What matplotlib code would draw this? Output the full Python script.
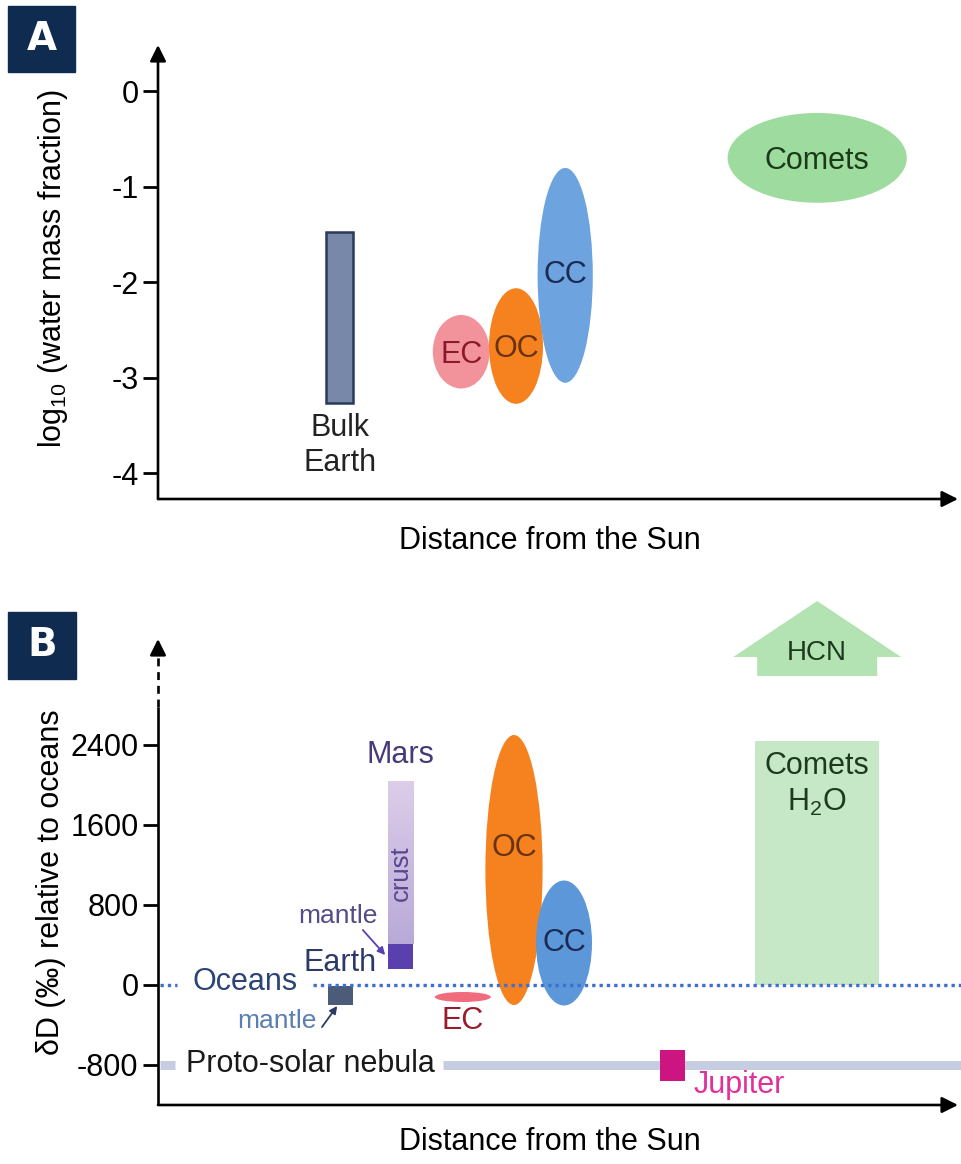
import matplotlib
matplotlib.use("Agg")
import matplotlib.pyplot as plt
import numpy as np
from matplotlib.patches import Ellipse, Rectangle
from matplotlib.colors import LinearSegmentedColormap

plt.rcParams['font.family'] = ['Liberation Sans', 'DejaVu Sans']
plt.rcParams['mathtext.fontset'] = 'custom'
plt.rcParams['mathtext.rm'] = 'Liberation Sans'
plt.rcParams['mathtext.it'] = 'Liberation Sans'

# ---------------- data: panel A (log10 water mass fraction) ----------------
a_ticks = [0, -1, -2, -3, -4]
bulk_earth_x = (21.0, 24.4)          # distance (arbitrary units)
bulk_earth_y = (-3.27, -1.48)        # log10 water mass fraction range
a_groups = ["EC", "OC", "CC", "Comets"]
a_center_x = [37.9, 44.75, 50.9, 82.4]
a_center_y = [-2.73, -2.67, -1.93, -0.70]
a_width = [7.1, 6.75, 6.9, 22.4]
a_height = [0.77, 1.21, 2.25, 0.94]

# ---------------- data: panel B (deltaD relative to oceans) ----------------
b_ticks = [-800, 0, 800, 1600, 2400]
b_groups = ["EC", "OC", "CC"]
b_center_x = [38.1, 44.5, 50.75]
b_center_y = [-120, 1150, 420]
b_width = [7.0, 7.15, 7.0]
b_height = [100, 2700, 1250]
earth_mantle_x = (21.25, 24.4)
earth_mantle_y = (-200, -10)
mars_x = (28.75, 31.9)
mars_crust_y = (410, 2040)
mars_mantle_y = (160, 410)
jupiter_x = (62.75, 65.9)
jupiter_y = (-960, -650)
comets_h2o_x = (74.6, 90.1)
comets_h2o_y = (0, 2440)
hcn_x = 82.4
hcn_y = (3090, 3840)
protosolar_value = -800
oceans_value = 0

# ---------------- figure ----------------
W, H = 961, 1164
fig = plt.figure(figsize=(W / 100, H / 100), dpi=100)

def ax_rect(left, right, top, bottom):
    return [left / W, 1 - bottom / H, (right - left) / W, (bottom - top) / H]

FS = 22
FS_S = 19
navy = '#0f2b50'

# panel label boxes
for (x0, y0, x1, y1, lab) in [(8, 6, 75, 72, 'A'), (8, 612, 76, 679, 'B')]:
    fig.patches.append(Rectangle((x0 / W, 1 - y1 / H), (x1 - x0) / W, (y1 - y0) / H,
                                 transform=fig.transFigure, color=navy, zorder=0))
    fig.text((x0 + x1) / 2 / W, 1 - (y0 + y1) / 2 / H, lab, color='white',
             fontsize=28, fontweight='bold', ha='center', va='center',
             family=['DejaVu Sans'])

# ====================== Panel A ======================
axA = fig.add_axes(ax_rect(158, 958, 45, 499))
yA0, yA1 = -4.272, 0.482
axA.set_xlim(0, 100)
axA.set_ylim(yA0, yA1)
for s in axA.spines.values():
    s.set_visible(False)
axA.set_xticks([])
axA.set_yticks(a_ticks)
axA.set_yticklabels([str(t) for t in a_ticks], fontsize=FS)
axA.tick_params(axis='y', length=11, width=2, pad=3)
axA.annotate('', xy=(0, yA1), xytext=(0, yA0), xycoords='data',
             arrowprops=dict(arrowstyle='-|>', lw=1.9, color='black',
                             mutation_scale=24, shrinkA=0, shrinkB=0),
             annotation_clip=False)
axA.annotate('', xy=(100, yA0), xytext=(0, yA0), xycoords='data',
             arrowprops=dict(arrowstyle='-|>', lw=1.9, color='black',
                             mutation_scale=24, shrinkA=0, shrinkB=0),
             annotation_clip=False)

axA.add_patch(Rectangle((bulk_earth_x[0], bulk_earth_y[0]),
                        bulk_earth_x[1] - bulk_earth_x[0],
                        bulk_earth_y[1] - bulk_earth_y[0],
                        facecolor='#7888a8', edgecolor='#2a3a5c', lw=1.8, zorder=3))
axA.text(np.mean(bulk_earth_x), -3.71, 'Bulk\nEarth', ha='center', va='center',
         fontsize=FS, color='#222222', linespacing=1.2)

a_fill = ['#f2939c', '#f5821f', '#6da3de', '#9edb9e']
a_text = ['#8a1a2a', '#6a3210', '#1c2a52', '#1a3a1a']
for i, g in enumerate(a_groups):
    axA.add_patch(Ellipse((a_center_x[i], a_center_y[i]), a_width[i], a_height[i],
                          facecolor=a_fill[i], edgecolor='none', zorder=3 + i))
    axA.text(a_center_x[i], a_center_y[i] - (0.03 if g != 'CC' else 0.0), g,
             ha='center', va='center', fontsize=FS, color=a_text[i], zorder=10)

axA.set_ylabel(r'log$_{\mathrm{10}}$ (water mass fraction)', fontsize=FS)
axA.yaxis.set_label_coords((70 - 158) / 800, (499 - 268) / 454)
fig.text(550 / W, 1 - 541 / H, 'Distance from the Sun', ha='center', va='center',
         fontsize=FS)

# ====================== Panel B ======================
axB = fig.add_axes(ax_rect(158, 958, 590, 1105))
yB0, yB1 = -1200, 3950
axB.set_xlim(0, 100)
axB.set_ylim(yB0, yB1)
for s in axB.spines.values():
    s.set_visible(False)
axB.set_xticks([])
axB.set_yticks(b_ticks)
axB.set_yticklabels([str(t) for t in b_ticks], fontsize=FS)
axB.tick_params(axis='y', length=11, width=2, pad=3)

# y axis: solid, then dashed, then arrow head
axB.plot([0, 0], [yB0, 2780], color='black', lw=1.9, clip_on=False,
         solid_capstyle='butt', zorder=5)
axB.plot([0, 0], [2780, 3330], color='black', lw=1.9, clip_on=False,
         linestyle=(0, (3.0, 2.2)), zorder=5)
axB.annotate('', xy=(0, 3460), xytext=(0, 3300), xycoords='data',
             arrowprops=dict(arrowstyle='-|>', lw=1.9, color='black',
                             mutation_scale=24, shrinkA=0, shrinkB=0),
             annotation_clip=False)
axB.annotate('', xy=(100, yB0), xytext=(0, yB0), xycoords='data',
             arrowprops=dict(arrowstyle='-|>', lw=1.9, color='black',
                             mutation_scale=24, shrinkA=0, shrinkB=0),
             annotation_clip=False)

# proto-solar nebula band
neb_col = '#c7cde1'
axB.plot([0.25, 2.1], [protosolar_value] * 2, color=neb_col, lw=6.5,
         solid_capstyle='butt', zorder=2)
axB.plot([35.6, 100.4], [protosolar_value] * 2, color=neb_col, lw=6.5,
         solid_capstyle='butt', zorder=2, clip_on=False)
axB.text(19.0, protosolar_value + 10, 'Proto-solar nebula', ha='center', va='center',
         fontsize=FS, color='#1a1a1a')

# oceans dotted line
oc_col = '#3f6fd0'
axB.plot([0.25, 2.4], [oceans_value] * 2, color=oc_col, lw=2.4,
         linestyle=(0, (1, 1.2)), zorder=6)
axB.plot([19.4, 100.4], [oceans_value] * 2, color=oc_col, lw=2.4,
         linestyle=(0, (1, 1.2)), zorder=6, clip_on=False)
axB.text(10.9, 30, 'Oceans', ha='center', va='center', fontsize=FS, color='#2c4476')

# Earth mantle
axB.add_patch(Rectangle((earth_mantle_x[0], earth_mantle_y[0]),
                        earth_mantle_x[1] - earth_mantle_x[0],
                        earth_mantle_y[1] - earth_mantle_y[0],
                        facecolor='#4b5b78', edgecolor='none', zorder=4))
axB.text(22.75, 220, 'Earth', ha='center', va='center', fontsize=FS, color='#2b3b66')
axB.text(14.9, -365, 'mantle', ha='center', va='center', fontsize=FS_S, color='#5a7fb2')
axB.annotate('', xy=(22.4, -210), xytext=(20.5, -420),
             arrowprops=dict(arrowstyle='-|>', lw=1.3, color='#2b3b66',
                             mutation_scale=11, shrinkA=0, shrinkB=0))

# Mars crust (gradient) + mantle
grad = np.linspace(0, 1, 256).reshape(-1, 1)
cmap_mars = LinearSegmentedColormap.from_list('mars', ['#b8aad8', '#dccde9'])
axB.imshow(grad, extent=[mars_x[0], mars_x[1], mars_crust_y[0], mars_crust_y[1]],
           origin='lower', cmap=cmap_mars, aspect='auto', zorder=3)
axB.add_patch(Rectangle((mars_x[0], mars_mantle_y[0]), mars_x[1] - mars_x[0],
                        mars_mantle_y[1] - mars_mantle_y[0],
                        facecolor='#5a3fae', edgecolor='none', zorder=4))
axB.text(np.mean(mars_x), 2300, 'Mars', ha='center', va='center', fontsize=FS,
         color='#473a78')
axB.text(np.mean(mars_x), 1120, 'crust', ha='center', va='center', fontsize=FS_S - 0.5,
         color='#5a4590', rotation=90, zorder=5)
axB.text(22.5, 690, 'mantle', ha='center', va='center', fontsize=FS_S, color='#574a88')
axB.annotate('', xy=(28.4, 300), xytext=(25.6, 550),
             arrowprops=dict(arrowstyle='-|>', lw=1.3, color='#5a3fae',
                             mutation_scale=11, shrinkA=0, shrinkB=0))

# chondrite ellipses
b_fill = ['#f06b7b', '#f5821f', '#5b97d9']
for i, g in enumerate(b_groups):
    axB.add_patch(Ellipse((b_center_x[i], b_center_y[i]), b_width[i], b_height[i],
                          facecolor=b_fill[i], edgecolor='none', zorder=3 + i))
axB.text(b_center_x[0], -360, 'EC', ha='center', va='center', fontsize=FS,
         color='#9a1c2c')
axB.text(b_center_x[1], 1370, 'OC', ha='center', va='center', fontsize=FS,
         color='#6a3210', zorder=10)
axB.text(b_center_x[2], 420, 'CC', ha='center', va='center', fontsize=FS,
         color='#1c2a52', zorder=10)

# Jupiter
axB.add_patch(Rectangle((jupiter_x[0], jupiter_y[0]), jupiter_x[1] - jupiter_x[0],
                        jupiter_y[1] - jupiter_y[0], facecolor='#cc1580',
                        edgecolor='none', zorder=4))
axB.text(66.9, -1000, 'Jupiter', ha='left', va='center', fontsize=FS, color='#e0309a')

# Comets H2O
axB.add_patch(Rectangle((comets_h2o_x[0], comets_h2o_y[0]),
                        comets_h2o_x[1] - comets_h2o_x[0],
                        comets_h2o_y[1] - comets_h2o_y[0],
                        facecolor='#c6e8c6', edgecolor='none', zorder=2))
axB.text(np.mean(comets_h2o_x), 2190, 'Comets', ha='center', va='center', fontsize=FS,
         color='#1e3a1e', zorder=10)
axB.text(np.mean(comets_h2o_x), 1830, 'H$_2$O', ha='center', va='center', fontsize=FS,
         color='#1e3a1e', zorder=10)

# HCN arrow
axB.arrow(hcn_x, hcn_y[0], 0, hcn_y[1] - hcn_y[0], width=15, head_width=21,
          head_length=560, length_includes_head=True, facecolor='#b3e3b3',
          edgecolor='none', zorder=2, clip_on=False)
axB.text(hcn_x, 3320, 'HCN', ha='center', va='center', fontsize=20,
         color='#1e3a1e', zorder=10)

axB.set_ylabel('δD (‰) relative to oceans', fontsize=FS)
axB.yaxis.set_label_coords((66 - 158) / 800, (1105 - 882) / 515)
fig.text(550 / W, 1 - 1142 / H, 'Distance from the Sun', ha='center', va='center',
         fontsize=FS)

fig.savefig('out.png', dpi=100)
